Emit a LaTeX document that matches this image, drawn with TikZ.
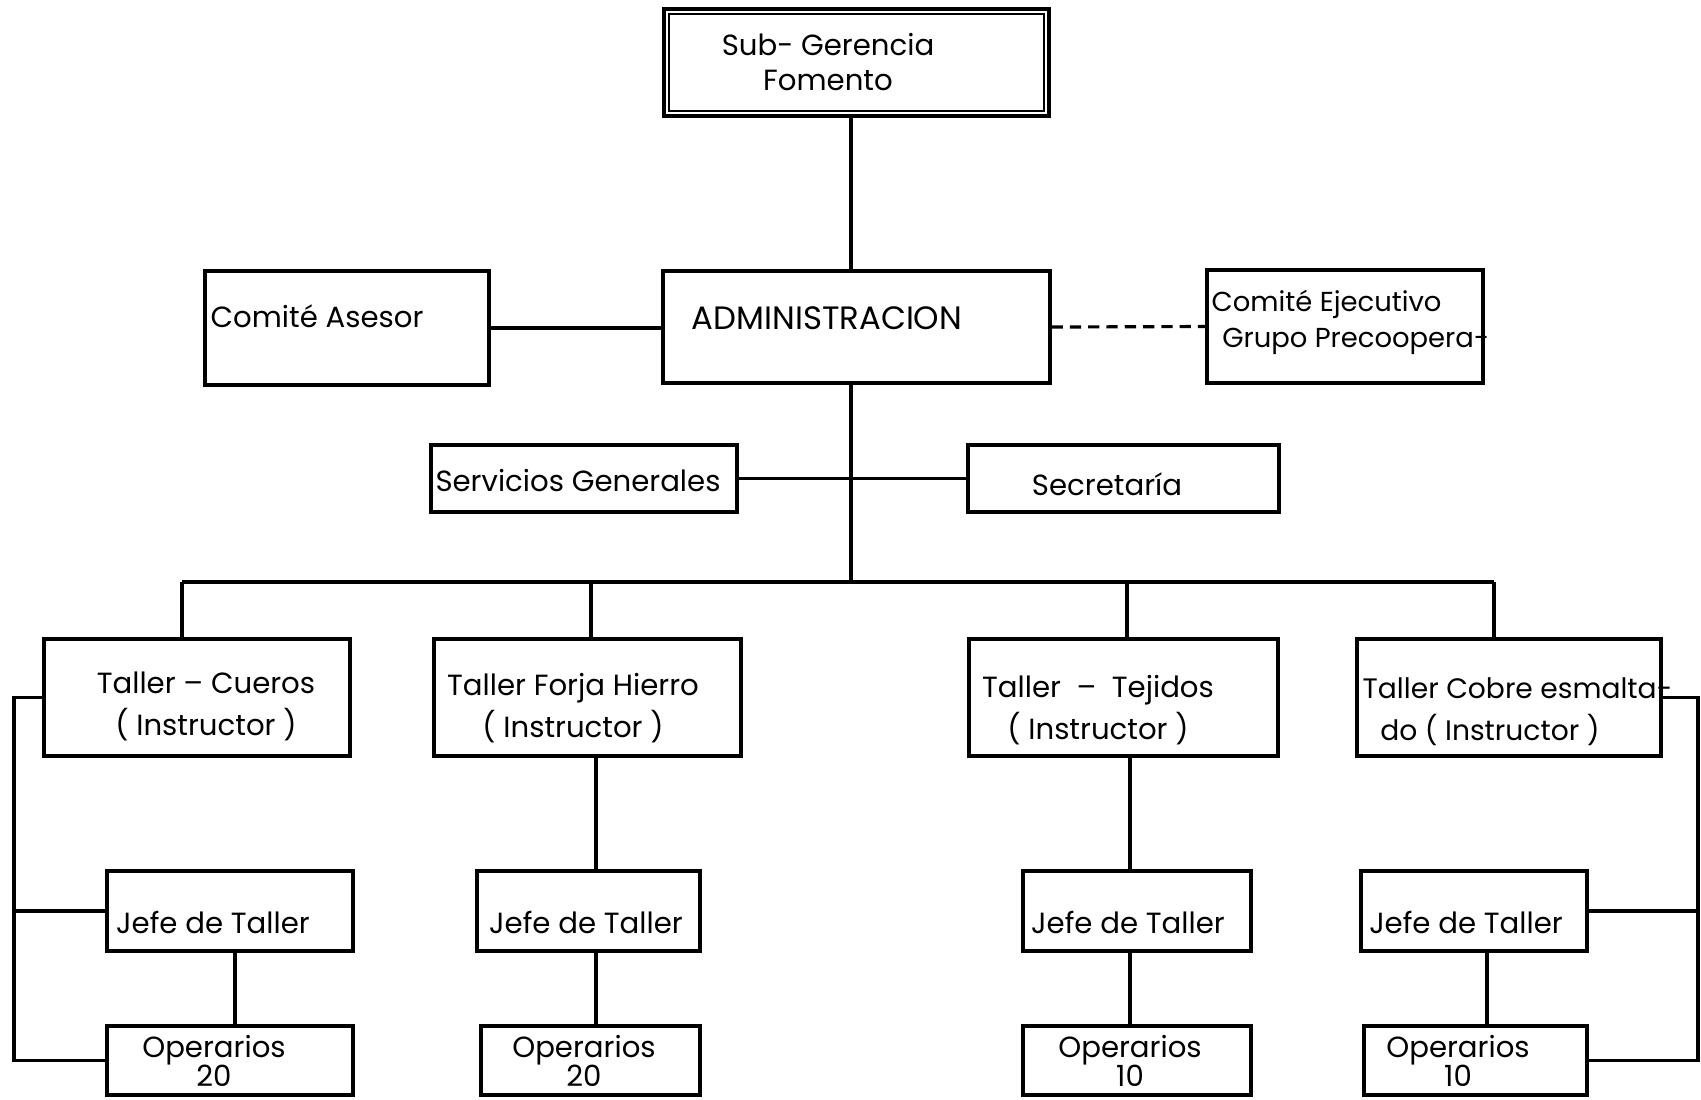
\documentclass[tikz,border=0pt]{standalone}
\usepackage{fontspec}
\setmainfont{Poppins}
\usetikzlibrary{positioning, calc, fit}

\tikzset{
    box/.style={draw, line width=0.9pt, inner sep=0pt},
    link/.style={line width=0.9pt},
    trunk/.style={line width=1.4pt},
    txt/.style={font=\fontsize{8.3}{10.2}\selectfont, inner sep=0pt},
}

\begin{document}
\begin{tikzpicture}[x=0.01cm, y=-0.01cm]
    \useasboundingbox[fill=white] (0,0) rectangle (1701,1099);

    % Sub-Gerencia (double frame)
    \node[box, line width=1.3pt, fit={(664,9) (1049,116)}] (sub) {};
    \draw[line width=0.6pt] ([shift={(7,7)}]sub.north west) rectangle ([shift={(-7,-7)}]sub.south east);
    \node[txt, align=center] (tsub) at (828,62) {Sub- Gerencia\\Fomento};

    % Administracion and committees
    \node[box, fit={(663,271) (1050,383)}] (adm) {};
    \node[txt, font=\fontsize{9.2}{11}\selectfont] (tadm) at (827,318) {ADMINISTRACION};
    \node[box, fit={(205,271) (489,385)}] (ase) {};
    \node[txt, anchor=west] (tase) at (210,316) {Comité Asesor};
    \node[box, fit={(1207,270) (1483,383)}] (eje) {};
    \node[txt, anchor=west, align=left, font=\fontsize{7.8}{10.2}\selectfont] (teje) at (1211,322) {Comité Ejecutivo\\\hspace*{3pt}Grupo Precoopera-};

    % Staff units
    \node[box, fit={(431,445) (737,512)}] (ser) {};
    \node[txt] (tser) at (578,481) {Servicios Generales};
    \node[box, fit={(968,445) (1279,512)}] (sec) {};
    \node[txt] (tsec) at (1107,484) {Secretaría};

    % Talleres
    \node[box, fit={(44,639) (350,756)}] (tcu) {};
    \node[txt, align=center, font=\fontsize{8.3}{12}\selectfont] (ttcu) at (206,706) {Taller – Cueros\\( Instructor )};
    \node[box, fit={(434,639) (741,756)}] (tfo) {};
    \node[txt, align=center, font=\fontsize{8.3}{12}\selectfont] (ttfo) at (573,708) {Taller Forja Hierro\\( Instructor )};
    \node[box, fit={(969,639) (1278,756)}] (tte) {};
    \node[txt, align=center, font=\fontsize{8.3}{12}\selectfont] (ttte) at (1098,710) {Taller ~–~ Tejidos\\( Instructor )};
    \node[box, fit={(1357,639) (1661,756)}] (tco) {};
    \node[txt, anchor=west, align=left, font=\fontsize{8}{12}\selectfont] (ttco) at (1362,712) {Taller Cobre esmalta-\\\hspace*{5pt}do ( Instructor )};

    % Jefes de taller and operarios
    \foreach \n/\xa/\xb/\tx in {1/107/353/213, 2/477/700/586, 3/1023/1251/1128, 4/1361/1587/1466} {
        \node[box, fit={(\xa,871) (\xb,951)}] (j\n) {};
        \node[txt] (tj\n) at (\tx,922) {Jefe de Taller};
    }
    \foreach \n/\xa/\xb/\tx/\num in {1/107/353/214/20, 2/481/700/584/20, 3/1023/1251/1130/10, 4/1364/1587/1458/10} {
        \node[box, fit={(\xa,1026) (\xb,1095)}] (o\n) {};
        \node[txt, align=center, font=\fontsize{8.3}{8.4}\selectfont] (to\n) at (\tx,1061) {Operarios\\\num};
    }

    % Main line of authority
    \coordinate (stem) at (851,0);
    \coordinate (busa) at (182,582);
    \coordinate (busb) at (591,582);
    \coordinate (busc) at (1127,582);
    \coordinate (busd) at (1494,582);
    \draw[trunk] (sub.south -| stem) -- (adm.north -| stem);
    \draw[trunk] (adm.south -| stem) -- (stem |- busa);
    \draw[trunk] (busa) -- (busd);
    \foreach \c/\t in {busa/tcu, busb/tfo, busc/tte, busd/tco}
        \draw[trunk] (\c) -- (\c |- \t.north);

    % Staff and advisory links
    \draw[link] (ase.east) -- (adm.west |- ase.east);
    \draw[link, dash pattern=on 3.2pt off 2pt] (adm.east) -- (eje.west);
    \draw[link] (ser.east) -- (sec.west);

    % Taller columns
    \coordinate (c1) at (235,0);
    \coordinate (c2) at (596,0);
    \coordinate (c3) at (1130,0);
    \coordinate (c4) at (1487,0);
    \draw[link] (j1.south -| c1) -- (o1.north -| c1);
    \draw[link] (tfo.south -| c2) -- (j2.north -| c2);
    \draw[link] (j2.south -| c2) -- (o2.north -| c2);
    \draw[link] (tte.south -| c3) -- (j3.north -| c3);
    \draw[link] (j3.south -| c3) -- (o3.north -| c3);
    \draw[link] (j4.south -| c4) -- (o4.north -| c4);

    % Side brackets
    \coordinate (lb) at (14,0);
    \coordinate (rb) at (1698,0);
    \draw[link] (tcu.west) -- (tcu.west -| lb) -- (o1.west -| lb) -- (o1.west);
    \draw[link] (j1.west -| lb) -- (j1.west);
    \draw[link] (tco.east) -- (tco.east -| rb) -- (o4.east -| rb) -- (o4.east);
    \draw[link] (j4.east -| rb) -- (j4.east);
\end{tikzpicture}
\end{document}
